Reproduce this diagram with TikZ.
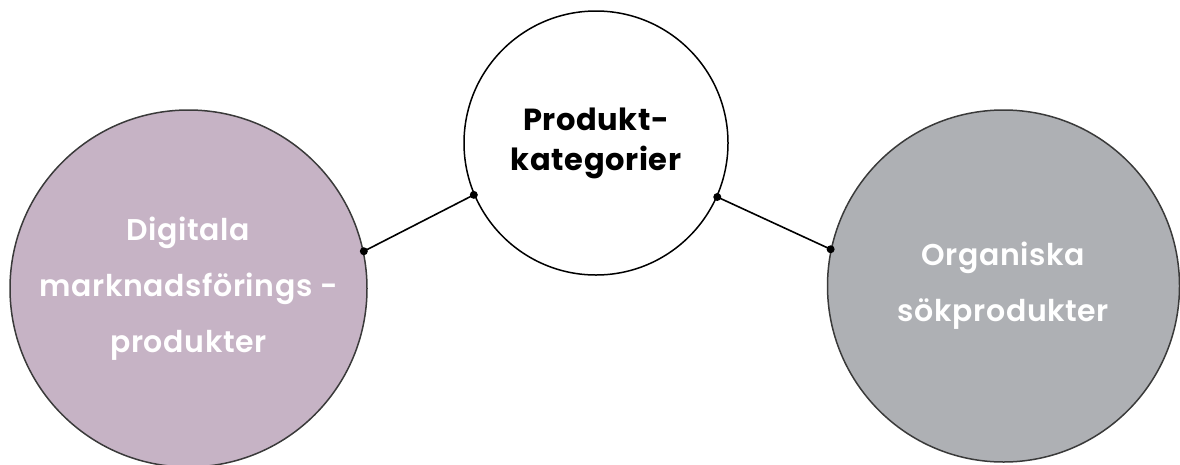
\documentclass[tikz,border=0pt]{standalone}
\usepackage{fontspec}
\setmainfont{Poppins}[UprightFont=* SemiBold, BoldFont=* Bold, LetterSpace=2]
\usetikzlibrary{calc}

\definecolor{lilac}{HTML}{C6B3C5}
\definecolor{slate}{HTML}{AEB0B4}
\definecolor{rim}{HTML}{3A3A3A}

\tikzset{
  topic/.style={circle, draw=rim, line width=1.5pt, inner sep=0pt,
    align=center, text=white, font=\fontsize{30}{56}\selectfont},
  hub/.style={circle, draw=black, line width=1.5pt, fill=white, inner sep=0pt,
    align=center, font=\bfseries\fontsize{30.5}{40}\selectfont},
  link/.style={line width=1.6pt, black},
}

\begin{document}
\begin{tikzpicture}[x=1pt, y=-1pt]
\useasboundingbox (0,0) rectangle (1180,464);

% -------------------------------------------------------
% 1. The three circles
% -------------------------------------------------------
\node[hub, minimum size=264pt] (kat) at (596,143) {Produkt-\\kategorier};
\node[topic, fill=lilac, minimum size=357pt] (dig) at (188.5,288.5)
  {Digitala\\marknadsförings -\\produkter};
\node[topic, fill=slate, minimum size=352pt] (org) at (1003.5,286)
  {Organiska\\sökprodukter};

% -------------------------------------------------------
% 2. Connectors with dots on the rims
% -------------------------------------------------------
\draw[link] (dig.12) -- (kat.203);
\draw[link] (kat.336.6) -- (org.168.5);
\foreach \p in {dig.12, kat.203, kat.336.6, org.168.5}
  \fill (\p) circle (4pt);

\end{tikzpicture}
\end{document}
